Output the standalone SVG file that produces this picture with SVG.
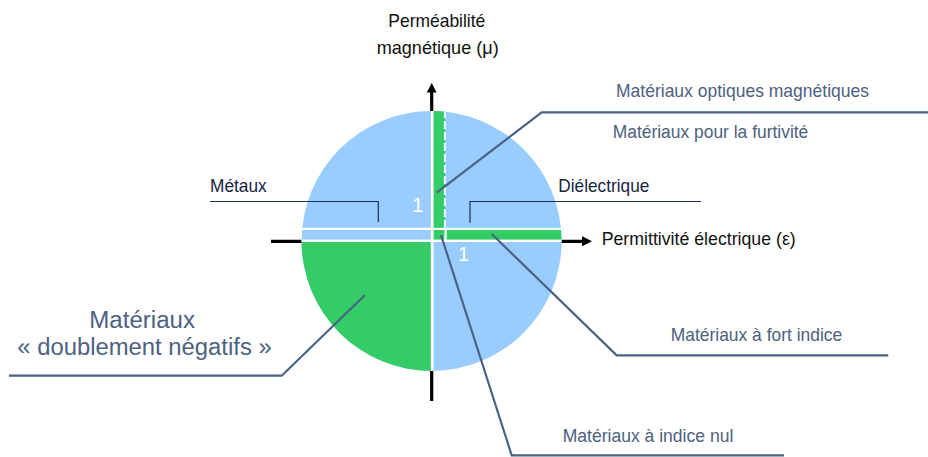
<svg xmlns="http://www.w3.org/2000/svg" width="928" height="457" viewBox="0 0 928 457">
<style>
text{font-family:"Liberation Sans",Arial,sans-serif;}
.ax{fill:#111111;font-size:19px;}
.dk{fill:#16263f;font-size:19px;}
.sl{fill:#4d6180;font-size:19px;}
.big{fill:#4d6180;font-size:23px;}
.one{fill:#ffffff;font-size:20px;}
.lead{fill:none;stroke:#4a6283;stroke-width:2.2;stroke-linejoin:miter;}
.brk{fill:none;stroke:#1c3050;stroke-width:1.2;}
.axis{stroke:#000;stroke-width:3.2;}
</style>
<defs>
<clipPath id="disc"><circle cx="431.6" cy="241" r="130"/></clipPath>
</defs>
<rect width="928" height="457" fill="#ffffff"/>
<g id="axes">
<line class="axis" x1="431.7" y1="90" x2="431.7" y2="401"/>
<polygon points="431.7,83 436.6,92.5 426.8,92.5" fill="#000"/>
<line class="axis" x1="271" y1="241.3" x2="583" y2="241.3"/>
<polygon points="592,241.3 582,236.3 582,246.3" fill="#000"/>
</g>
<g id="disc-chart" clip-path="url(#disc)">
<rect x="300" y="110" width="265" height="265" fill="#99ccff"/>
<rect x="300" y="241" width="132" height="134" fill="#33cc66"/>
<rect x="433" y="108" width="12" height="122" fill="#33cc66"/>
<rect x="433" y="229" width="132" height="11" fill="#33cc66"/>
<rect x="430.8" y="108" width="2.8" height="270" fill="#ffffff"/>
<rect x="298" y="227.8" width="270" height="2.2" fill="#ffffff"/>
<rect x="298" y="239.6" width="270" height="2.4" fill="#ffffff"/>
<rect x="444.4" y="230" width="2.3" height="10" fill="#ffffff"/>
<line x1="444.8" y1="110" x2="444.8" y2="227.8" stroke="#ffffff" stroke-width="1.8" stroke-dasharray="8 3"/>
</g>
<g id="ones">
<text class="one" x="412.3" y="212.3">1</text>
<text class="one" x="458" y="261.3">1</text>
</g>
<g id="connectors">
<polyline class="lead" points="436.7,192.7 541.7,112.3 928,112.3"/>
<polyline class="lead" points="491.7,234 616.7,355.3 888.3,355.3"/>
<polyline class="lead" points="441,235 511.7,455.3 784,455.3"/>
<polyline class="lead" points="365,295 281.7,375.7 9,375.7"/>
<polyline class="brk" points="210,201.5 378.3,201.5 378.3,222"/>
<polyline class="brk" points="470,222.7 470,201.5 701,201.5"/>
</g>
<g id="node-mu">
<text class="ax" x="388.3" y="27" textLength="97" lengthAdjust="spacingAndGlyphs">Perméabilité</text>
<text class="ax" x="376.7" y="53.5" textLength="122" lengthAdjust="spacingAndGlyphs">magnétique (μ)</text>
</g>
<g id="node-eps">
<text class="ax" x="601.7" y="245" textLength="194" lengthAdjust="spacingAndGlyphs">Permittivité électrique (ε)</text>
</g>
<g id="node-optiques">
<text class="sl" x="616" y="96.7" textLength="253" lengthAdjust="spacingAndGlyphs">Matériaux optiques magnétiques</text>
</g>
<g id="node-furtivite">
<text class="sl" x="612.7" y="137.7" textLength="195.6" lengthAdjust="spacingAndGlyphs">Matériaux pour la furtivité</text>
</g>
<g id="node-dielectrique">
<text class="dk" x="558.3" y="191.7" textLength="91" lengthAdjust="spacingAndGlyphs">Diélectrique</text>
</g>
<g id="node-metaux">
<text class="dk" x="210" y="191.7" textLength="56.7" lengthAdjust="spacingAndGlyphs">Métaux</text>
</g>
<g id="node-fort">
<text class="sl" x="670.7" y="340.7" textLength="171.6" lengthAdjust="spacingAndGlyphs">Matériaux à fort indice</text>
</g>
<g id="node-nul">
<text class="sl" x="562.7" y="441.7" textLength="170.6" lengthAdjust="spacingAndGlyphs">Matériaux à indice nul</text>
</g>
<g id="node-dng">
<text class="big" x="89.3" y="327.7" textLength="105.7" lengthAdjust="spacingAndGlyphs">Matériaux</text>
<text class="big" x="17.3" y="355" textLength="254.4" lengthAdjust="spacingAndGlyphs">« doublement négatifs »</text>
</g>
</svg>
